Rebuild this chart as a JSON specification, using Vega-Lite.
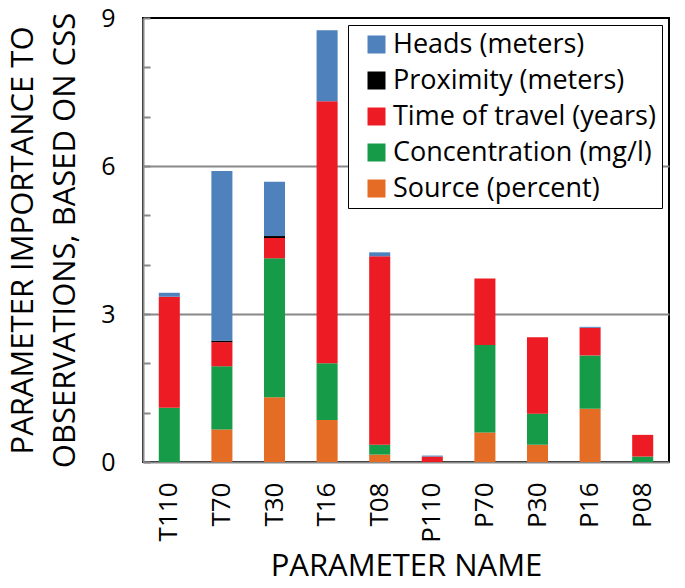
{
  "$schema": "https://vega.github.io/schema/vega-lite/v6.json",
  "width": 526,
  "height": 444,
  "autosize": "none",
  "padding": {"left": 143, "top": 18, "right": 16, "bottom": 126},
  "config": {
    "font": "Open Sans",
    "view": {"stroke": "black", "strokeWidth": 2}
  },
  "data": {
    "values": [
      {"param": "T110", "cat": "Source (percent)", "ord": 1, "v": 0},
      {"param": "T110", "cat": "Concentration (mg/l)", "ord": 2, "v": 1.10},
      {"param": "T110", "cat": "Time of travel (years)", "ord": 3, "v": 2.25},
      {"param": "T110", "cat": "Proximity (meters)", "ord": 4, "v": 0},
      {"param": "T110", "cat": "Heads (meters)", "ord": 5, "v": 0.08},
      {"param": "T70", "cat": "Source (percent)", "ord": 1, "v": 0.66},
      {"param": "T70", "cat": "Concentration (mg/l)", "ord": 2, "v": 1.28},
      {"param": "T70", "cat": "Time of travel (years)", "ord": 3, "v": 0.49},
      {"param": "T70", "cat": "Proximity (meters)", "ord": 4, "v": 0.03},
      {"param": "T70", "cat": "Heads (meters)", "ord": 5, "v": 3.44},
      {"param": "T30", "cat": "Source (percent)", "ord": 1, "v": 1.31},
      {"param": "T30", "cat": "Concentration (mg/l)", "ord": 2, "v": 2.82},
      {"param": "T30", "cat": "Time of travel (years)", "ord": 3, "v": 0.41},
      {"param": "T30", "cat": "Proximity (meters)", "ord": 4, "v": 0.04},
      {"param": "T30", "cat": "Heads (meters)", "ord": 5, "v": 1.10},
      {"param": "T16", "cat": "Source (percent)", "ord": 1, "v": 0.85},
      {"param": "T16", "cat": "Concentration (mg/l)", "ord": 2, "v": 1.15},
      {"param": "T16", "cat": "Time of travel (years)", "ord": 3, "v": 5.31},
      {"param": "T16", "cat": "Proximity (meters)", "ord": 4, "v": 0},
      {"param": "T16", "cat": "Heads (meters)", "ord": 5, "v": 1.44},
      {"param": "T08", "cat": "Source (percent)", "ord": 1, "v": 0.15},
      {"param": "T08", "cat": "Concentration (mg/l)", "ord": 2, "v": 0.20},
      {"param": "T08", "cat": "Time of travel (years)", "ord": 3, "v": 3.82},
      {"param": "T08", "cat": "Proximity (meters)", "ord": 4, "v": 0},
      {"param": "T08", "cat": "Heads (meters)", "ord": 5, "v": 0.08},
      {"param": "P110", "cat": "Source (percent)", "ord": 1, "v": 0},
      {"param": "P110", "cat": "Concentration (mg/l)", "ord": 2, "v": 0},
      {"param": "P110", "cat": "Time of travel (years)", "ord": 3, "v": 0.11},
      {"param": "P110", "cat": "Proximity (meters)", "ord": 4, "v": 0},
      {"param": "P110", "cat": "Heads (meters)", "ord": 5, "v": 0.02},
      {"param": "P70", "cat": "Source (percent)", "ord": 1, "v": 0.60},
      {"param": "P70", "cat": "Concentration (mg/l)", "ord": 2, "v": 1.77},
      {"param": "P70", "cat": "Time of travel (years)", "ord": 3, "v": 1.35},
      {"param": "P70", "cat": "Proximity (meters)", "ord": 4, "v": 0},
      {"param": "P70", "cat": "Heads (meters)", "ord": 5, "v": 0},
      {"param": "P30", "cat": "Source (percent)", "ord": 1, "v": 0.35},
      {"param": "P30", "cat": "Concentration (mg/l)", "ord": 2, "v": 0.63},
      {"param": "P30", "cat": "Time of travel (years)", "ord": 3, "v": 1.55},
      {"param": "P30", "cat": "Proximity (meters)", "ord": 4, "v": 0},
      {"param": "P30", "cat": "Heads (meters)", "ord": 5, "v": 0},
      {"param": "P16", "cat": "Source (percent)", "ord": 1, "v": 1.08},
      {"param": "P16", "cat": "Concentration (mg/l)", "ord": 2, "v": 1.08},
      {"param": "P16", "cat": "Time of travel (years)", "ord": 3, "v": 0.56},
      {"param": "P16", "cat": "Proximity (meters)", "ord": 4, "v": 0},
      {"param": "P16", "cat": "Heads (meters)", "ord": 5, "v": 0.02},
      {"param": "P08", "cat": "Source (percent)", "ord": 1, "v": 0},
      {"param": "P08", "cat": "Concentration (mg/l)", "ord": 2, "v": 0.11},
      {"param": "P08", "cat": "Time of travel (years)", "ord": 3, "v": 0.44},
      {"param": "P08", "cat": "Proximity (meters)", "ord": 4, "v": 0},
      {"param": "P08", "cat": "Heads (meters)", "ord": 5, "v": 0}
    ]
  },
  "mark": {"type": "bar"},
  "encoding": {
    "x": {
      "field": "param",
      "type": "nominal",
      "sort": ["T110", "T70", "T30", "T16", "T08", "P110", "P70", "P30", "P16", "P08"],
      "scale": {"paddingInner": 0.6, "paddingOuter": 0.3},
      "axis": {
        "title": "PARAMETER NAME",
        "titleFontSize": 31,
        "titleFontWeight": "normal",
        "titleColor": "black",
        "titlePadding": 9,
        "labelAngle": -90,
        "labelAlign": "right",
        "labelBaseline": "middle",
        "labelFontSize": 26,
        "labelColor": "black",
        "labelPadding": 20,
        "labelOverlap": false,
        "labelBound": false,
        "labelFlush": false,
        "ticks": false,
        "domainColor": "#888888",
        "domainWidth": 2
      }
    },
    "y": {
      "field": "v",
      "type": "quantitative",
      "stack": "zero",
      "scale": {"domain": [0, 9], "nice": false},
      "axis": {
        "title": ["PARAMETER IMPORTANCE TO", "OBSERVATIONS, BASED ON CSS"],
        "titleFontSize": 31,
        "titleFontWeight": "normal",
        "titleColor": "black",
        "titleLineHeight": 42,
        "titlePadding": 19,
        "values": [0, 1, 2, 3, 4, 5, 6, 7, 8, 9],
        "labelExpr": "datum.value % 3 === 0 ? datum.label : ''",
        "labelFontSize": 25,
        "labelColor": "black",
        "labelPadding": 35,
        "ticks": true,
        "tickSize": -7,
        "tickColor": "#888888",
        "tickWidth": 2,
        "grid": true,
        "gridColor": "#888888",
        "gridWidth": 2,
        "gridOpacity": {"condition": {"test": "datum.value === 3 || datum.value === 6", "value": 1}, "value": 0},
        "domainColor": "#888888",
        "domainWidth": 2
      }
    },
    "color": {
      "field": "cat",
      "type": "nominal",
      "scale": {
        "domain": ["Heads (meters)", "Proximity (meters)", "Time of travel (years)", "Concentration (mg/l)", "Source (percent)"],
        "range": ["#4F81BD", "#000000", "#ED1C24", "#169B48", "#E46C24"]
      },
      "legend": {
        "title": null,
        "orient": "top-right",
        "offset": 7,
        "padding": 6,
        "strokeColor": "black",
        "fillColor": "white",
        "symbolType": "square",
        "symbolSize": 324,
        "symbolStrokeWidth": 0,
        "symbolOffset": 9,
        "labelFontSize": 27,
        "labelColor": "black",
        "labelLimit": 400,
        "rowPadding": 8,
        "labelOffset": 3
      }
    },
    "order": {"field": "ord", "type": "quantitative", "sort": "ascending"}
  }
}
